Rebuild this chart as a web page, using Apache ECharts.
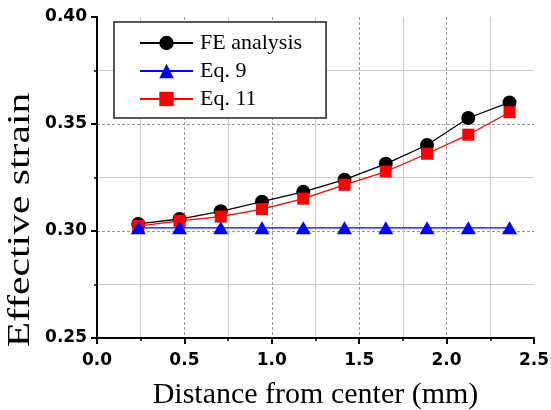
<!DOCTYPE html>
<html>
<head>
<meta charset="utf-8">
<script src="https://cdn.jsdelivr.net/npm/echarts@6/dist/echarts.min.js"></script>
<style>
html, body { margin: 0; padding: 0; background: #fff; }
#container { width: 551px; height: 410px; }
</style>
</head>
<body>
<div id="container"></div>
<script>
var distance = [0.236, 0.472, 0.708, 0.944, 1.18, 1.416, 1.652, 1.888, 2.124, 2.36];
var feAnalysis = [0.3033, 0.3056, 0.3092, 0.3137, 0.3183, 0.3240, 0.3314, 0.3402, 0.3528, 0.3601];
var eq9 = [0.3015, 0.3015, 0.3015, 0.3015, 0.3015, 0.3015, 0.3015, 0.3015, 0.3015, 0.3015];
var eq11 = [0.3023, 0.3047, 0.3067, 0.3102, 0.3151, 0.3216, 0.3278, 0.3361, 0.3450, 0.3555];

function pairs(ys) {
    var out = [];
    for (var i = 0; i < ys.length; i++) {
        out.push([distance[i], ys[i]]);
    }
    return out;
}

var dom = document.getElementById("container");
var myChart = echarts.init(dom, null, { renderer: 'canvas' });

var tickFont = { fontFamily: 'DejaVu Sans', fontWeight: 'bold', color: '#000' };

option = {
    animation: false,
    backgroundColor: '#fff',
    grid: { left: 97, right: 17, top: 17, bottom: 72, containLabel: false, outerBoundsMode: 'none' },
    legend: {
        orient: 'vertical',
        left: 114,
        top: 22,
        data: ['FE analysis', 'Eq. 9', 'Eq. 11'],
        itemWidth: 53,
        itemHeight: 18,
        itemGap: 6,
        padding: [10, 24, 8, 25],
        backgroundColor: '#fff',
        borderColor: '#222',
        borderWidth: 1.5,
        borderRadius: 0,
        textStyle: { fontFamily: 'Liberation Serif', fontSize: 22, color: '#000', padding: [0, 0, 0, 2] }
    },
    xAxis: {
        type: 'value',
        min: 0,
        max: 2.5,
        interval: 0.5,
        name: 'Distance from center (mm)',
        nameLocation: 'middle',
        nameGap: 42,
        nameTextStyle: { fontFamily: 'Liberation Serif', fontSize: 30, color: '#000' },
        axisLine: { lineStyle: { color: '#000', width: 2 } },
        axisTick: { length: 6, lineStyle: { color: '#000', width: 2 } },
        minorTick: { show: true, splitNumber: 2, length: 3, lineStyle: { color: '#000', width: 1.5 } },
        axisLabel: Object.assign({ fontSize: 17, margin: 14, formatter: function (v) { return v.toFixed(1); } }, tickFont),
        splitLine: { show: true, showMinLine: false, showMaxLine: false, lineStyle: { color: '#999', type: [3, 2], width: 1 } },
        minorSplitLine: { show: true, lineStyle: { color: '#ccc', width: 1 } }
    },
    yAxis: {
        type: 'value',
        min: 0.25,
        max: 0.40,
        interval: 0.05,
        axisLine: { show: true, lineStyle: { color: '#000', width: 2 } },
        axisTick: { show: true, length: 6, lineStyle: { color: '#000', width: 2 } },
        minorTick: { show: true, splitNumber: 2, length: 3, lineStyle: { color: '#000', width: 1.5 } },
        axisLabel: Object.assign({ fontSize: 17, margin: 10, formatter: function (v) { return v.toFixed(2); } }, tickFont),
        splitLine: { show: true, showMinLine: false, showMaxLine: false, lineStyle: { color: '#999', type: [3, 2], width: 1 } },
        minorSplitLine: { show: true, lineStyle: { color: '#ccc', width: 1 } }
    },
    graphic: [{
        type: 'text',
        x: 21,
        y: 220,
        rotation: Math.PI / 2,
        scaleX: 1.3,
        scaleY: 1,
        style: {
            text: 'Effective strain',
            font: '32px "Liberation Serif"',
            fill: '#000',
            align: 'center',
            verticalAlign: 'middle'
        }
    }],
    series: [{
        name: 'FE analysis',
        type: 'line',
        data: pairs(feAnalysis),
        symbol: 'circle',
        symbolSize: 14,
        z: 2,
        itemStyle: { color: '#000' },
        lineStyle: { color: '#000', width: 1.3 }
    }, {
        name: 'Eq. 11',
        type: 'line',
        data: pairs(eq11),
        symbol: 'rect',
        symbolSize: 12,
        z: 3,
        itemStyle: { color: '#ff0000' },
        lineStyle: { color: '#ff0000', width: 1.3 }
    }, {
        name: 'Eq. 9',
        type: 'line',
        data: pairs(eq9),
        symbol: 'triangle',
        symbolSize: [15, 13],
        z: 4,
        itemStyle: { color: '#0000ff' },
        lineStyle: { color: '#0000ff', width: 1.3 }
    }]
};

if (option && typeof option === "object") {
    myChart.setOption(option, true);
}
</script>
</body>
</html>
